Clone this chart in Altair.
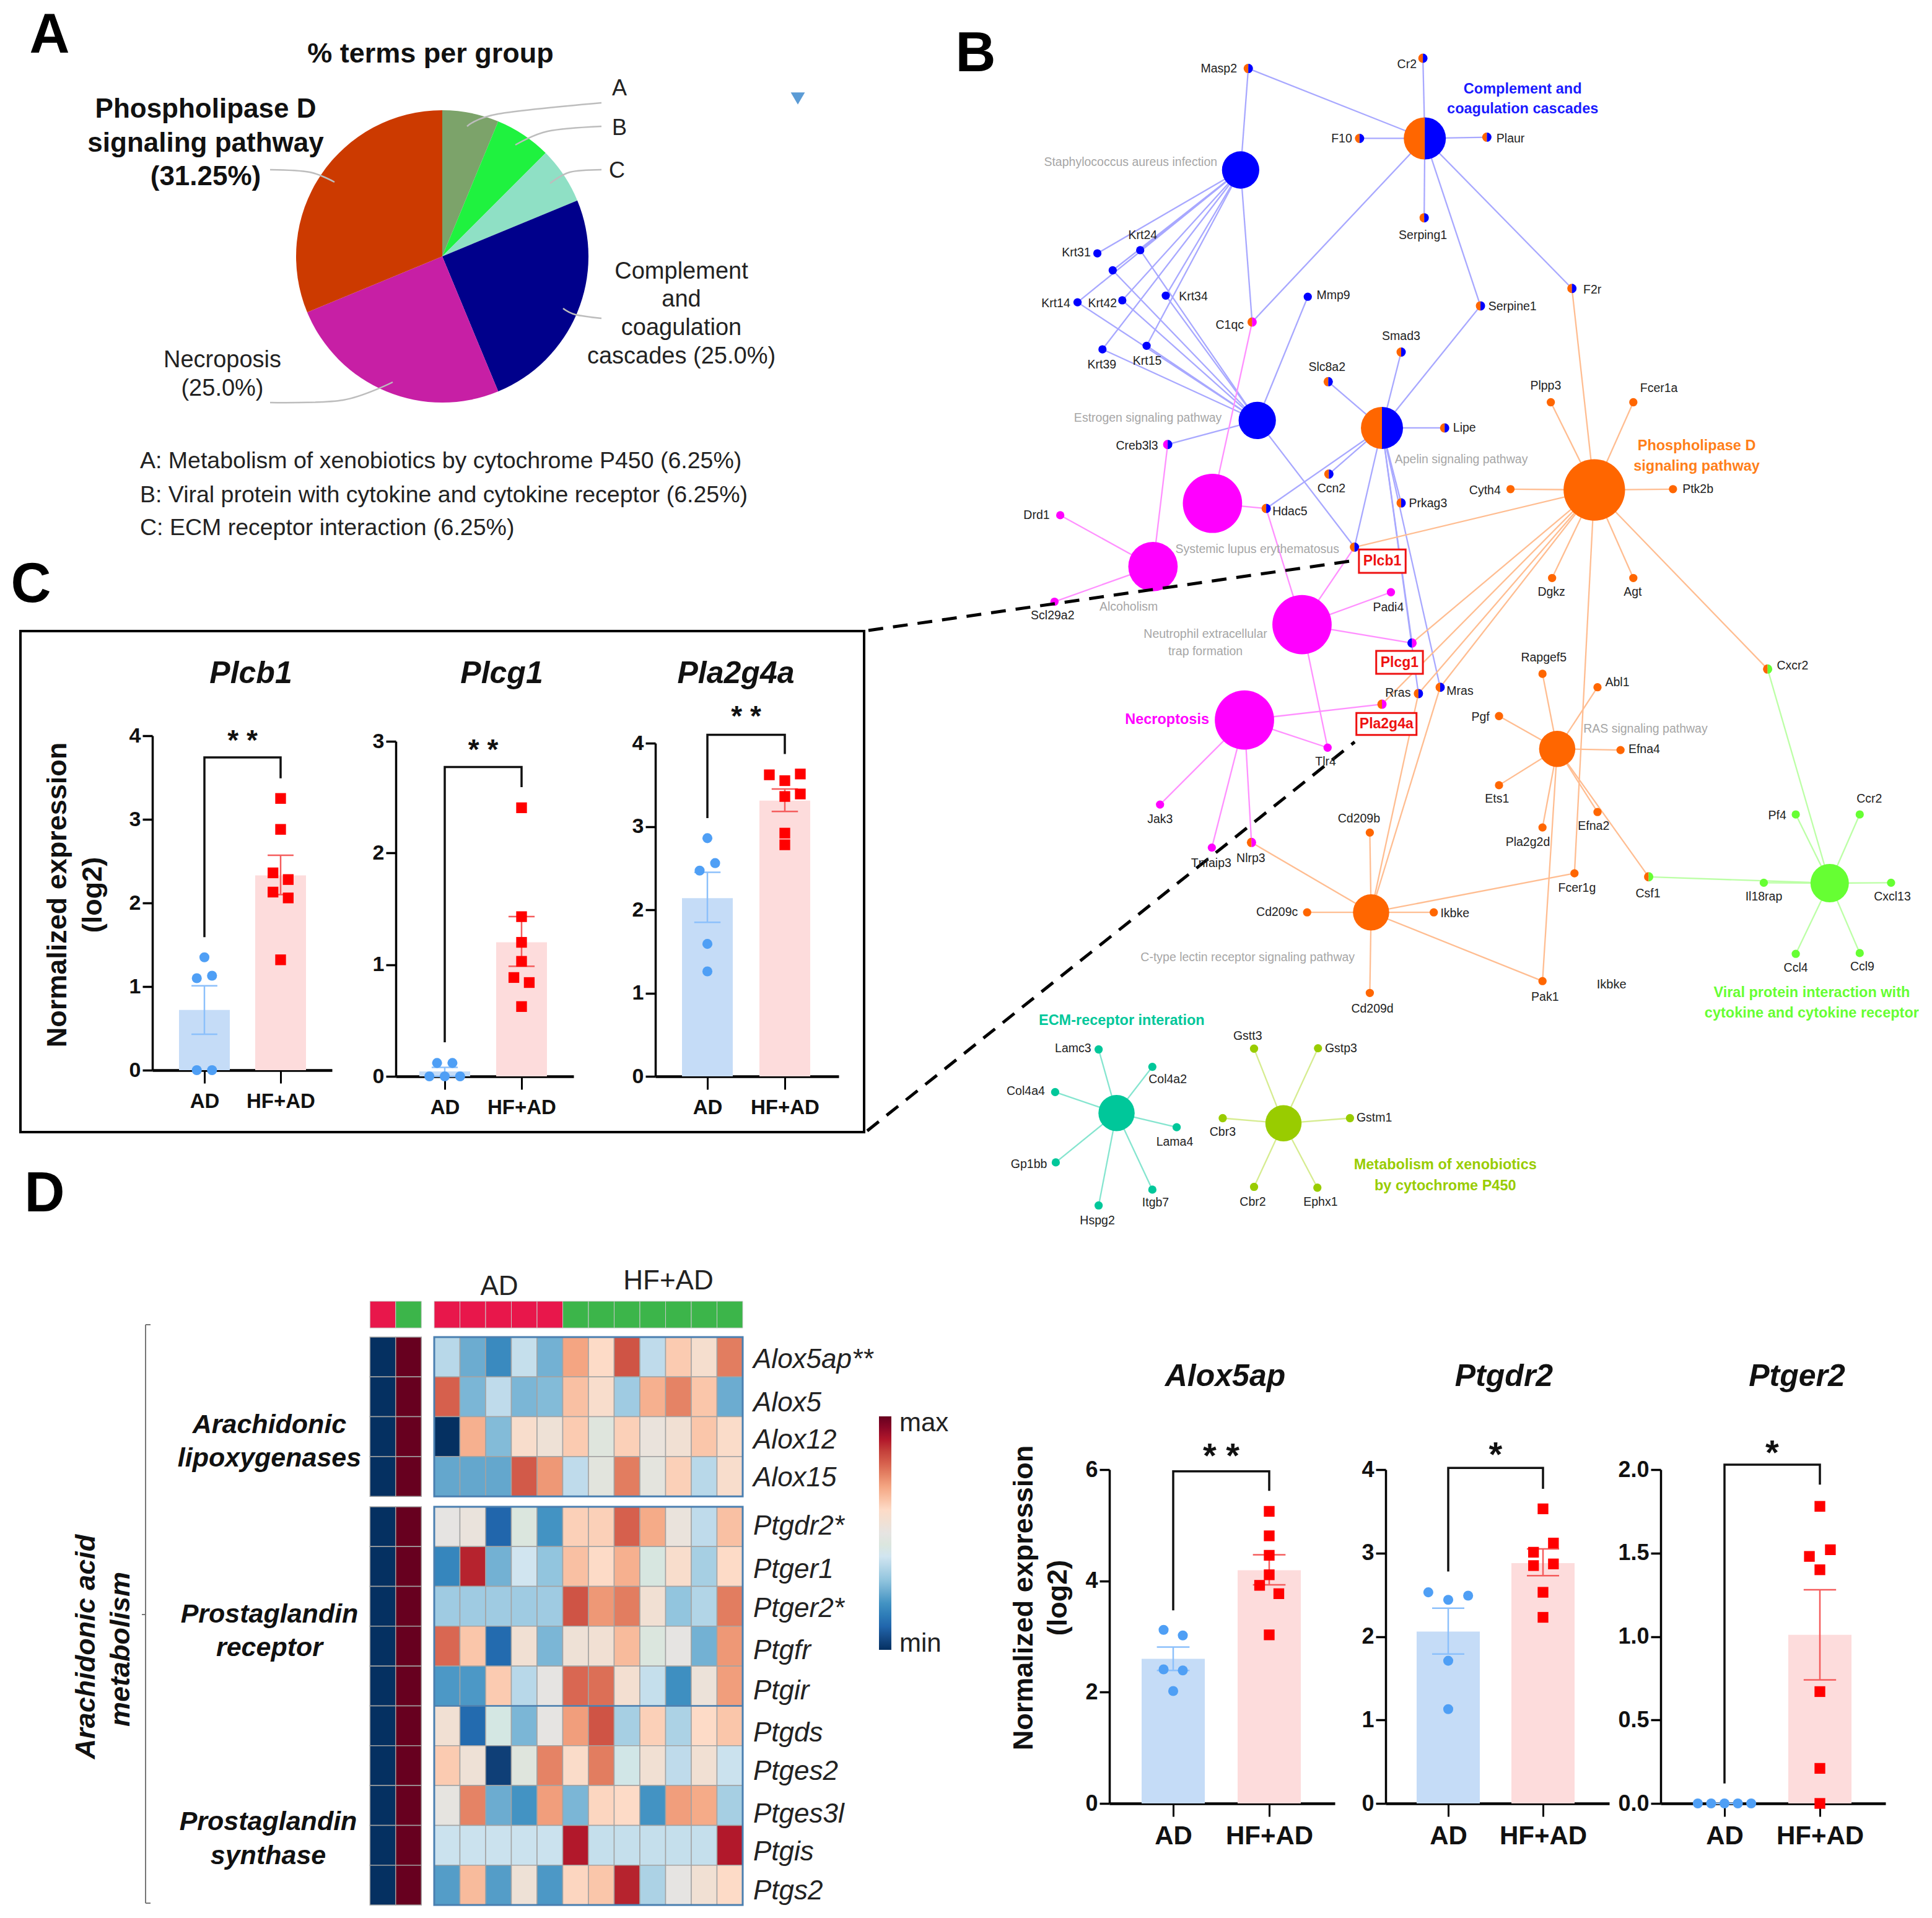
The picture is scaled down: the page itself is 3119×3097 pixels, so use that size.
import altair as alt
import pandas as pd
from collections import defaultdict

FONT = "Liberation Sans"
M = 8  # page margin
FIG_W, FIG_H = 3119, 3097

# ---------------- pie -----------------
PIE_VALUES = [6.25, 6.25, 6.25, 25.0, 25.0, 31.25]
PIE_COLORS = ["#7ca36a", "#1ff23f", "#8fe0c5", "#00008b", "#c71fa5", "#cc3a00"]

# ---------------- bars ------------------------------------------------
PLCB1 = dict(mean=[0.72, 2.33], err=[(0.43, 1.01), (2.10, 2.57)],
             ad=[(1, 1.35), (0.9, 1.10), (1.1, 1.13), (0.9, 0), (1.1, 0)],
             hf=[(2, 3.25), (2, 2.88), (1.9, 2.36), (2.1, 2.28), (1.9, 2.13), (2.1, 2.06), (2, 1.32)],
             bracket=[1.59, 3.74, 3.74, 3.49], stars="* *", star_y=3.99, ticks=[0, 1, 2, 3, 4])
PLCG1 = dict(mean=[0.045, 1.20], err=[(0.0, 0.08), (0.985, 1.43)],
             ad=[(0.9, 0.12), (1.1, 0.12), (0.8, 0), (1, 0), (1.2, 0)],
             hf=[(2, 2.405), (2, 1.43), (2, 1.20), (2, 1.03), (1.9, 0.885), (2.1, 0.84), (2, 0.625)],
             bracket=[0.305, 2.77, 2.77, 2.59], stars="* *", star_y=2.96, ticks=[0, 1, 2, 3])
PLA2G4A = dict(mean=[2.14, 3.31], err=[(1.85, 2.45), (3.18, 3.45)],
               ad=[(1, 2.86), (1.1, 2.56), (0.9, 2.47), (1, 1.59), (1, 1.26)],
               hf=[(1.8, 3.62), (2.2, 3.63), (2, 3.55), (2.2, 3.39), (2, 3.36), (2, 2.92), (2, 2.78)],
               bracket=[3.10, 4.10, 4.10, 3.87], stars="* *", star_y=4.37, ticks=[0, 1, 2, 3, 4])
ALOX5AP = dict(mean=[2.6, 4.19], err=[(2.39, 2.81), (3.93, 4.47)],
               ad=[(0.9, 3.12), (1.1, 3.02), (0.9, 2.41), (1.1, 2.39), (1, 2.02)],
               hf=[(2, 5.25), (2, 4.81), (2, 4.46), (2, 4.11), (1.9, 3.92), (2.1, 3.77), (2, 3.03)],
               bracket=[3.47, 5.97, 5.97, 5.62], stars="* *", star_y=6.37, ticks=[0, 2, 4, 6])
PTGDR2 = dict(mean=[2.06, 2.88], err=[(1.79, 2.34), (2.73, 3.05)],
              ad=[(0.79, 2.53), (1.21, 2.49), (1, 2.44), (1, 1.71), (1, 1.13)],
              hf=[(2, 3.53), (2.11, 3.12), (1.9, 3.01), (2.11, 2.87), (1.9, 2.85), (2, 2.53), (2, 2.23)],
              bracket=[2.78, 4.02, 4.02, 3.77], stars="*", star_y=4.26, ticks=[0, 1, 2, 3, 4])
PTGER2 = dict(mean=[0.0, 1.01], err=[(0.0, 0.0), (0.74, 1.28)],
              ad=[(0.72, 0), (0.86, 0), (1, 0), (1.14, 0), (1.28, 0)],
              hf=[(2, 1.78), (2.11, 1.52), (1.89, 1.48), (2, 1.40), (2, 0.67), (2, 0.21), (2, 0)],
              bracket=[0.12, 2.03, 2.03, 1.91], stars="*", star_y=2.14, ticks=[0, 0.5, 1.0, 1.5, 2.0])

# ---------------- heatmap -----------------
HEAT_GENES = ["Alox5ap**", "Alox5", "Alox12", "Alox15", "Ptgdr2*", "Ptger1", "Ptger2*", "Ptgfr",
              "Ptgir", "Ptgds", "Ptges2", "Ptges3l", "Ptgis", "Ptgs2"]
HEAT_LABEL_Y = [2196, 2266, 2326, 2387, 2465, 2535, 2598, 2666, 2731, 2799, 2861, 2930, 2991, 3054]
HEAT = [
    [0.36, 0.25, 0.18, 0.38, 0.26, 0.70, 0.60, 0.82, 0.37, 0.63, 0.57, 0.76],
    [0.80, 0.27, 0.37, 0.27, 0.28, 0.65, 0.58, 0.32, 0.68, 0.75, 0.64, 0.25],
    [0.00, 0.68, 0.28, 0.58, 0.54, 0.63, 0.46, 0.62, 0.52, 0.55, 0.64, 0.59],
    [0.24, 0.24, 0.24, 0.81, 0.72, 0.37, 0.47, 0.76, 0.48, 0.62, 0.36, 0.58],
    [0.50, 0.52, 0.10, 0.45, 0.20, 0.62, 0.62, 0.80, 0.69, 0.52, 0.37, 0.65],
    [0.17, 0.89, 0.26, 0.40, 0.30, 0.65, 0.60, 0.68, 0.44, 0.58, 0.33, 0.60],
    [0.32, 0.32, 0.32, 0.32, 0.32, 0.82, 0.72, 0.76, 0.55, 0.30, 0.35, 0.76],
    [0.79, 0.64, 0.11, 0.55, 0.27, 0.54, 0.55, 0.66, 0.45, 0.50, 0.26, 0.72],
    [0.21, 0.21, 0.63, 0.36, 0.50, 0.79, 0.78, 0.56, 0.38, 0.19, 0.53, 0.71],
    [0.55, 0.11, 0.43, 0.27, 0.50, 0.71, 0.82, 0.33, 0.62, 0.34, 0.60, 0.64],
    [0.63, 0.54, 0.03, 0.46, 0.75, 0.59, 0.76, 0.42, 0.55, 0.37, 0.55, 0.39],
    [0.49, 0.75, 0.25, 0.20, 0.71, 0.27, 0.61, 0.60, 0.20, 0.71, 0.69, 0.33],
    [0.39, 0.39, 0.39, 0.39, 0.39, 0.90, 0.38, 0.38, 0.38, 0.38, 0.38, 0.90],
    [0.22, 0.66, 0.22, 0.54, 0.21, 0.61, 0.64, 0.89, 0.34, 0.50, 0.55, 0.60],
]
HEAT_STOPS = [0, .1, .2, .3, .4, .5, .6, .7, .8, .9, 1]
HEAT_RANGE = ["#053061", "#2166ac", "#4393c3", "#92c5de", "#d1e5f0", "#e6e4e2",
              "#fddbc7", "#f4a582", "#d6604d", "#b2182b", "#67001f"]

# ---------------- network -----------------
O, B, P, G, T, Y = "#ff6600", "#0000ff", "#ff00ff", "#66ff33", "#00c79a", "#99cc00"
E_COL = {O: "#ffbd91", B: "#a8a8ff", P: "#ff90ff", G: "#bcffa6", T: "#85e5cf", Y: "#d6ec90"}
# read in two crops of the picture; converted to figure pixels below
def fx(v): return 1500 + v / 0.9685
def fy2(v): return 50 + v / 1.568
def fy3(v): return 1000 + v / 1.568

# name: (x, y, crop, diameter, left colour, right colour)
HUBS = {
    "Staph": (487, 352, 2, 68, B, B), "Compl": (775, 272, 2, 68, O, B), "Estr": (513, 986, 2, 68, B, B),
    "Apelin": (708, 1005, 2, 68, O, B), "PLD": (1040, 1162, 2, 112, O, O), "SLE": (443, 1196, 2, 108, P, P),
    "Alco": (350, 1356, 2, 90, P, P), "Neut": (583, 1013 + 490, 2, 108, P, P), "Necr": (493, 255, 3, 108, P, P),
    "RAS": (982, 328, 3, 66, O, O), "Ctype": (691, 742, 3, 66, O, O), "Viral": (1408, 668, 3, 70, G, G),
    "ECM": (293, 1250, 3, 66, T, T), "Xeno": (554, 1276, 3, 66, Y, Y),
}
# name: (x, y, crop, left, right, label x, label y)
GENES = {
    "Masp2": (499, 95, 2, O, B, 453, 95), "Cr2": (772, 69, 2, O, B, 747, 85), "F10": (673, 272, 2, O, B, 645, 273),
    "Plaur": (872, 269, 2, O, B, 909, 273), "Serping1": (774, 473, 2, O, B, 772, 518),
    "Krt31": (263, 563, 2, B, B, 230, 562), "Krt24": (330, 555, 2, B, B, 334, 518),
    "": (287, 606, 2, B, B, 287, 606), "Krt14": (232, 687, 2, B, B, 198, 690),
    "Krt42": (302, 682, 2, B, B, 271, 690), "Krt34": (370, 670, 2, B, B, 413, 673),
    "Mmp9": (592, 673, 2, B, B, 632, 670), "C1qc": (505, 737, 2, O, P, 470, 745),
    "Serpine1": (862, 696, 2, O, B, 912, 698), "F2r": (1005, 652, 2, O, B, 1037, 655),
    "Krt39": (271, 806, 2, B, B, 270, 845), "Krt15": (340, 797, 2, B, B, 341, 835),
    "Smad3": (738, 813, 2, O, B, 738, 773), "Slc8a2": (624, 888, 2, O, B, 622, 852),
    "Plpp3": (972, 940, 2, O, O, 964, 898), "Fcer1a": (1101, 940, 2, O, O, 1141, 905),
    "Lipe": (806, 1005, 2, O, B, 837, 1005), "Creb3l3": (373, 1047, 2, P, B, 325, 1050),
    "Ccn2": (625, 1122, 2, O, B, 629, 1158), "Cyth4": (909, 1160, 2, O, O, 869, 1163),
    "Ptk2b": (1163, 1160, 2, O, O, 1202, 1160), "Prkag3": (738, 1195, 2, O, B, 780, 1197),
    "Hdac5": (527, 1209, 2, O, B, 564, 1216), "Drd1": (205, 1226, 2, P, P, 168, 1226),
    "Plcb1": (665, 1307, 2, O, B, None, None), "Dgkz": (974, 1385, 2, O, O, 973, 1420),
    "Agt": (1101, 1385, 2, O, O, 1100, 1420), "Padi4": (722, 1421, 2, P, P, 718, 1460),
    "Scl29a2": (196, 1445, 2, P, P, 193, 1480), "Plcg1": (755, 60, 3, B, P, None, None),
    "Rapgef5": (959, 138, 3, O, O, 961, 97), "Abl1": (1045, 172, 3, O, O, 1076, 160),
    "Cxcr2": (1311, 126, 3, O, G, 1350, 118), "Mras": (799, 172, 3, O, B, 830, 182),
    "Rras": (765, 188, 3, O, B, 733, 187), "Pla2g4a": (708, 215, 3, O, P, None, None),
    "Pgf": (891, 245, 3, O, O, 862, 248), "Efna4": (1081, 331, 3, O, O, 1118, 330),
    "Tlr4": (623, 325, 3, P, P, 620, 360), "Ets1": (891, 420, 3, O, O, 888, 455),
    "Jak3": (361, 469, 3, P, P, 361, 507), "Efna2": (1045, 488, 3, O, O, 1039, 523),
    "Pla2g2d": (959, 527, 3, O, O, 936, 565), "Cd209b": (689, 540, 3, O, O, 672, 505),
    "Nlrp3": (504, 565, 3, O, P, 503, 605), "Tnfaip3": (442, 578, 3, P, P, 441, 618),
    "Pf4": (1355, 494, 3, G, G, 1326, 497), "Ccr2": (1455, 494, 3, G, G, 1470, 455),
    "Fcer1g": (1009, 643, 3, O, O, 1013, 680), "Csf1": (1125, 652, 3, O, G, 1124, 695),
    "Il18rap": (1305, 667, 3, G, G, 1305, 703), "Cxcl13": (1504, 667, 3, G, G, 1506, 703),
    "Cd209c": (591, 742, 3, O, O, 544, 742), "Ikbke": (789, 742, 3, O, O, 822, 745),
    "Ccl4": (1355, 847, 3, G, G, 1355, 882), "Ccl9": (1455, 845, 3, G, G, 1459, 879),
    "Pak1": (959, 916, 3, O, O, 963, 957), "Cd209d": (689, 946, 3, O, O, 693, 987),
    "Lamc3": (265, 1089, 3, T, T, 225, 1087), "Gstt3": (508, 1087, 3, Y, Y, 498, 1055),
    "Gstp3": (608, 1086, 3, Y, Y, 644, 1087), "Col4a2": (349, 1133, 3, T, T, 373, 1165),
    "Col4a4": (197, 1197, 3, T, T, 151, 1195), "Cbr3": (459, 1263, 3, Y, Y, 459, 1298),
    "Gstm1": (658, 1263, 3, Y, Y, 696, 1263), "Lama4": (387, 1286, 3, T, T, 384, 1323),
    "Gp1bb": (198, 1375, 3, T, T, 156, 1380), "Itgb7": (349, 1444, 3, T, T, 354, 1477),
    "Cbr2": (508, 1437, 3, Y, Y, 506, 1475), "Ephx1": (607, 1439, 3, Y, Y, 612, 1475),
    "Hspg2": (265, 1484, 3, T, T, 263, 1522),
}
EDGES = {
    ("Staph", B): ["Masp2", "Krt31", "Krt24", "", "Krt14", "Krt42", "Krt34", "Krt39", "Krt15", "C1qc"],
    ("Compl", B): ["Masp2", "Cr2", "F10", "Plaur", "Serping1", "C1qc", "Serpine1", "F2r"],
    ("Estr", B): ["Krt24", "", "Krt14", "Krt42", "Krt34", "Krt39", "Krt15", "Mmp9", "Creb3l3", "Plcb1"],
    ("Apelin", B): ["Smad3", "Slc8a2", "Lipe", "Serpine1", "Ccn2", "Prkag3", "Hdac5", "Plcb1", "Plcg1", "Rras", "Mras"],
    ("SLE", P): ["C1qc", "Hdac5"],
    ("Alco", P): ["Creb3l3", "Drd1", "Scl29a2"],
    ("Neut", P): ["Hdac5", "Plcb1", "Padi4", "Plcg1", "Tlr4"],
    ("Necr", P): ["Pla2g4a", "Tlr4", "Jak3", "Tnfaip3", "Nlrp3"],
    ("PLD", O): ["F2r", "Plpp3", "Fcer1a", "Cyth4", "Ptk2b", "Plcb1", "Dgkz", "Agt", "Cxcr2", "Plcg1", "Rras", "Pla2g4a", "Mras", "Fcer1g"],
    ("RAS", O): ["Rapgef5", "Abl1", "Pgf", "Efna4", "Ets1", "Efna2", "Pla2g2d", "Csf1", "Pak1"],
    ("Ctype", O): ["Nlrp3", "Cd209b", "Cd209c", "Ikbke", "Cd209d", "Pak1", "Fcer1g", "Rras", "Mras"],
    ("Viral", G): ["Cxcr2", "Pf4", "Ccr2", "Il18rap", "Cxcl13", "Ccl4", "Ccl9", "Csf1"],
    ("ECM", T): ["Lamc3", "Col4a2", "Col4a4", "Lama4", "Gp1bb", "Itgb7", "Hspg2"],
    ("Xeno", Y): ["Gstt3", "Gstp3", "Cbr3", "Gstm1", "Cbr2", "Ephx1"],
}
RED_BOXES = [("Plcb1", 672, 745, 1313, 1372, 2), ("Plcg1", 699, 772, 80, 138, 3), ("Pla2g4a", 668, 762, 237, 293, 3)]

GRAY = "#a6a6a6"
# text, x, y, size, weight, style, colour, angle, align
def n2(t, x, y, s, w, c): return (t, fx(x), fy2(y), s, w, "normal", c, 0, "center")
def n3(t, x, y, s, w, c): return (t, fx(x), fy3(y), s, w, "normal", c, 0, "center")
ANNOT = [
    ("A", 80, 58, 90, "bold", "normal", "black", 0, "center"),
    ("B", 1575, 88, 90, "bold", "normal", "black", 0, "center"),
    ("C", 50, 945, 90, "bold", "normal", "black", 0, "center"),
    ("D", 72, 1929, 90, "bold", "normal", "black", 0, "center"),
    ("% terms per group", 695, 87, 45, "bold", "normal", "#111", 0, "center"),
    ("Phospholipase D", 332, 177, 44, "bold", "normal", "#111", 0, "center"),
    ("signaling pathway", 332, 232, 44, "bold", "normal", "#111", 0, "center"),
    ("(31.25%)", 332, 286, 44, "bold", "normal", "#111", 0, "center"),
    ("A", 1000, 143, 36, "normal", "normal", "#222", 0, "center"),
    ("B", 1000, 207, 36, "normal", "normal", "#222", 0, "center"),
    ("C", 996, 276, 36, "normal", "normal", "#222", 0, "center"),
    ("Complement", 1100, 439, 38, "normal", "normal", "#222", 0, "center"),
    ("and", 1100, 484, 38, "normal", "normal", "#222", 0, "center"),
    ("coagulation", 1100, 530, 38, "normal", "normal", "#222", 0, "center"),
    ("cascades (25.0%)", 1100, 576, 38, "normal", "normal", "#222", 0, "center"),
    ("Necroposis", 359, 582, 38, "normal", "normal", "#222", 0, "center"),
    ("(25.0%)", 359, 628, 38, "normal", "normal", "#222", 0, "center"),
    ("A: Metabolism of xenobiotics by cytochrome P450 (6.25%)", 226, 745, 37.5, "normal", "normal", "#222", 0, "left"),
    ("B: Viral protein with cytokine and cytokine receptor (6.25%)", 226, 800, 37.5, "normal", "normal", "#222", 0, "left"),
    ("C: ECM receptor interaction (6.25%)", 226, 853, 37.5, "normal", "normal", "#222", 0, "left"),
    # panel C
    ("Plcb1", 405, 1088, 50, "bold", "italic", "#111", 0, "center"),
    ("Plcg1", 810, 1088, 50, "bold", "italic", "#111", 0, "center"),
    ("Pla2g4a", 1188, 1088, 50, "bold", "italic", "#111", 0, "center"),
    ("Normalized expression", 93, 1445, 45, "bold", "normal", "#111", 270, "center"),
    ("(log2)", 150, 1445, 45, "bold", "normal", "#111", 270, "center"),
    # panel D
    ("AD", 806, 2078, 44, "normal", "normal", "#222", 0, "center"),
    ("HF+AD", 1079, 2069, 44, "normal", "normal", "#222", 0, "center"),
    ("Arachidonic", 435, 2301, 43, "bold", "italic", "#111", 0, "center"),
    ("lipoxygenases", 435, 2355, 43, "bold", "italic", "#111", 0, "center"),
    ("Prostaglandin", 435, 2607, 43, "bold", "italic", "#111", 0, "center"),
    ("receptor", 435, 2661, 43, "bold", "italic", "#111", 0, "center"),
    ("Prostaglandin", 433, 2942, 43, "bold", "italic", "#111", 0, "center"),
    ("synthase", 433, 2997, 43, "bold", "italic", "#111", 0, "center"),
    ("Arachidonic  acid", 139, 2659, 45, "bold", "italic", "#111", 270, "center"),
    ("metabolism", 195, 2663, 45, "bold", "italic", "#111", 270, "center"),
    ("max", 1452, 2298, 42, "normal", "normal", "#222", 0, "left"),
    ("min", 1452, 2654, 42, "normal", "normal", "#222", 0, "left"),
    ("Alox5ap", 1978, 2223, 50, "bold", "italic", "#111", 0, "center"),
    ("Ptgdr2", 2428, 2223, 50, "bold", "italic", "#111", 0, "center"),
    ("Ptger2", 2901, 2223, 50, "bold", "italic", "#111", 0, "center"),
    ("Normalized expression", 1653, 2580, 45, "bold", "normal", "#111", 270, "center"),
    ("(log2)", 1708, 2580, 45, "bold", "normal", "#111", 270, "center"),
    # network labels
    n2("Complement and", 928, 147, 23.5, "bold", "#1a1aff"),
    n2("coagulation cascades", 928, 198, 23.5, "bold", "#1a1aff"),
    n2("Phospholipase D", 1200, 1050, 23.5, "bold", "#ff7f1a"),
    n2("signaling pathway", 1200, 1102, 23.5, "bold", "#ff7f1a"),
    n2("Staphylococcus aureus infection", 315, 333, 19.5, "normal", GRAY),
    n2("Estrogen signaling pathway", 342, 980, 19.5, "normal", GRAY),
    n2("Apelin signaling pathway", 832, 1085, 19.5, "normal", GRAY),
    n2("Systemic lupus erythematosus", 513, 1313, 19.5, "normal", GRAY),
    n2("Alcoholism", 312, 1458, 19.5, "normal", GRAY),
    n3("Neutrophil extracellular", 432, 38, 19.5, "normal", GRAY),
    n3("trap formation", 432, 82, 19.5, "normal", GRAY),
    n3("RAS signaling pathway", 1120, 277, 19.5, "normal", GRAY),
    n3("C-type lectin receptor signaling pathway", 498, 856, 19.5, "normal", GRAY),
    n3("Ikbke", 1067, 925, 20, "normal", "#222"),
    n3("Necroptosis", 372, 254, 23.5, "bold", "#ff00ff"),
    n3("Viral protein interaction with", 1380, 945, 23.5, "bold", "#66ff33"),
    n3("cytokine and cytokine receptor", 1380, 997, 23.5, "bold", "#66ff33"),
    n3("ECM-receptor interation", 301, 1016, 23.5, "bold", "#00c79a"),
    n3("Metabolism of xenobiotics", 807, 1382, 23.5, "bold", "#99cc00"),
    n3("by cytochrome  P450", 807, 1434, 23.5, "bold", "#99cc00"),
]

CALLOUTS = [
    [(971, 166), (804, 184), (754, 204)],
    [(971, 204), (884, 212), (832, 234)],
    [(971, 274), (920, 278), (888, 296)],
    [(971, 514), (929, 508), (909, 498)],
    [(436, 650), (554, 646), (634, 617)],
    [(436, 274), (500, 278), (540, 294)],
]

# ---------------- all panels share the page origin; each later panel starts one pixel further right ----
def panel(c):
    return c.properties(width=1, height=1)


def canvas(idx):
    SX = alt.Scale(domain=[0, FIG_W], range=[-M - idx, FIG_W - M - idx])
    SY = alt.Scale(domain=[0, FIG_H], range=[-M, FIG_H - M])
    X = alt.X("x:Q", scale=SX, axis=None)
    Y_ = alt.Y("y:Q", scale=SY, axis=None)
    layers = []
    # frame of panel C
    frame = pd.DataFrame([dict(x=33, x2=1395, y=1019, y2=1828)])
    layers.append(alt.Chart(frame).mark_rect(fillOpacity=0, stroke="black", strokeWidth=4).encode(
        x=X, x2="x2:Q", y=Y_, y2="y2:Q"))
    # pie call-outs
    rows = [dict(g=g, i=i, x=p[0], y=p[1]) for g, c in enumerate(CALLOUTS) for i, p in enumerate(c)]
    layers.append(alt.Chart(pd.DataFrame(rows)).mark_line(interpolate="cardinal", color="#bdbdbd", strokeWidth=2.5).encode(
        x=X, y=Y_, detail="g:N", order="i:Q"))
    # brace of D
    rows = [dict(x=235, y=2139, x2=235, y2=3073), dict(x=235, y=2139, x2=243, y2=2139),
            dict(x=235, y=3073, x2=243, y2=3073), dict(x=229, y=2607, x2=235, y2=2607)]
    layers.append(alt.Chart(pd.DataFrame(rows)).mark_rule(color="#777", strokeWidth=2).encode(
        x=X, x2="x2:Q", y=Y_, y2="y2:Q"))
    # triangle
    layers.append(alt.Chart(pd.DataFrame([dict(x=1288, y=159)])).mark_point(
        shape="triangle-down", filled=True, color="#5b9bd5", size=520, opacity=1).encode(x=X, y=Y_))

    def pos(t):
        return fx(t[0]), (fy2 if t[2] == 2 else fy3)(t[1])
    # edges
    rows = []
    for (hub, col), genes in EDGES.items():
        hx, hy = pos(HUBS[hub])
        for g in genes:
            gx, gy = pos(GENES[g])
            rows.append(dict(x=hx, y=hy, x2=gx, y2=gy, c=E_COL[col]))
    layers.append(alt.Chart(pd.DataFrame(rows)).mark_rule(strokeWidth=2.3).encode(
        x=X, x2="x2:Q", y=Y_, y2="y2:Q", color=alt.Color("c:N", scale=None)))
    # whole nodes
    rows = []
    halves = defaultdict(list)
    for h in HUBS.values():
        x, y = pos(h)
        if h[4] == h[5]:
            rows.append(dict(x=x, y=y, c=h[4], s=3.1416 * (h[3] / 2) ** 2))
        else:
            halves[(h[3] / 2, h[4], h[5])].append(dict(x=x, y=y))
    for g in GENES.values():
        x, y = pos(g)
        if g[3] == g[4]:
            rows.append(dict(x=x, y=y, c=g[3], s=3.1416 * 7.5 ** 2))
        else:
            halves[(7.5, g[3], g[4])].append(dict(x=x, y=y))
    layers.append(alt.Chart(pd.DataFrame(rows)).mark_point(filled=True, opacity=1, shape="circle").encode(
        x=X, y=Y_, color=alt.Color("c:N", scale=None), size=alt.Size("s:Q", scale=None)))
    for (r, left, right), pts in halves.items():
        df = pd.DataFrame(pts)
        layers.append(alt.Chart(df).mark_arc(outerRadius=r, theta=3.14159, theta2=6.28318, color=left).encode(x=X, y=Y_))
        layers.append(alt.Chart(df).mark_arc(outerRadius=r, theta=0.0001, theta2=3.14159, color=right).encode(x=X, y=Y_))
    # dashed connectors
    dash = pd.DataFrame([dict(x=1402, y=1018, x2=2187, y2=905), dict(x=1400, y=1826, x2=2187, y2=1198)])
    layers.append(alt.Chart(dash).mark_rule(color="black", strokeWidth=5, strokeDash=[24, 16]).encode(
        x=X, x2="x2:Q", y=Y_, y2="y2:Q"))
    # gene labels
    rows = [dict(t=k, x=fx(v[5]), y=(fy2 if v[2] == 2 else fy3)(v[6])) for k, v in GENES.items() if k and v[5] is not None]
    layers.append(alt.Chart(pd.DataFrame(rows)).mark_text(font=FONT, fontSize=19.5, color="#222", baseline="middle").encode(
        x=X, y=Y_, text="t:N"))
    # red boxes
    rows = []
    for t, a, b, c, d, crop in RED_BOXES:
        f = fy2 if crop == 2 else fy3
        rows.append(dict(t=t, x=fx(a), x2=fx(b), y=f(c), y2=f(d), mx=fx((a + b) / 2), my=f((c + d) / 2)))
    df = pd.DataFrame(rows)
    layers.append(alt.Chart(df).mark_rect(fill="white", stroke="#ee1111", strokeWidth=3).encode(
        x=X, x2="x2:Q", y=Y_, y2="y2:Q"))
    layers.append(alt.Chart(df).mark_text(font=FONT, fontSize=23, fontWeight="bold", color="#ee1111", baseline="middle").encode(
        x=alt.X("mx:Q", scale=SX, axis=None), y=alt.Y("my:Q", scale=SY, axis=None), text="t:N"))
    # other text
    groups = defaultdict(list)
    for t, x, y, s, w, st, c, ang, al in ANNOT:
        groups[(s, w, st, c, ang, al)].append(dict(t=t, x=x, y=y))
    for (s, w, st, c, ang, al), rows in groups.items():
        kw = dict(angle=ang) if ang else {}
        layers.append(alt.Chart(pd.DataFrame(rows)).mark_text(
            font=FONT, fontSize=s, fontWeight=w, fontStyle=st, color=c, align=al, baseline="middle", **kw
        ).encode(x=X, y=Y_, text="t:N"))
    return panel(alt.layer(*layers))


def pie():
    df = pd.DataFrame(dict(v=PIE_VALUES, c=PIE_COLORS, i=range(len(PIE_VALUES))))
    c = alt.Chart(df).mark_arc(outerRadius=236).encode(
        theta=alt.Theta("v:Q", stack=True),
        color=alt.Color("c:N", scale=None),
        order=alt.Order("i:Q"),
        x=alt.value(714 - M), y=alt.value(414 - M))
    return panel(c)


def heat(idx):
    gap = 0.26
    sx = alt.Scale(domain=[0, 12], range=[701 - M - idx, 1199 - M - idx])
    sy = alt.Scale(domain=[0, 14 + gap], range=[2159 - M, 3076 - M])
    XH = alt.X("x0:Q", scale=sx, axis=None)
    YH = alt.Y("y0:Q", scale=sy, axis=None)
    def ry(i): return i + (gap if i >= 4 else 0)
    rows = []
    for i, row in enumerate(HEAT):
        for j, v in enumerate(row):
            rows.append(dict(x0=j, x1=j + 1, y0=ry(i), y1=ry(i) + 1, v=v))
        rows.append(dict(x0=-2.5, x1=-1.5, y0=ry(i), y1=ry(i) + 1, v=0))
        rows.append(dict(x0=-1.5, x1=-0.5, y0=ry(i), y1=ry(i) + 1, v=1))
    cells = alt.Chart(pd.DataFrame(rows)).mark_rect(stroke="#a3a3a3", strokeWidth=1.5).encode(
        x=XH, x2="x1:Q", y=YH, y2="y1:Q",
        color=alt.Color("v:Q", scale=alt.Scale(domain=HEAT_STOPS, range=HEAT_RANGE),
                        legend=alt.Legend(orient="none", legendX=1421 - M - idx, legendY=2287 - M, title=None,
                                          direction="vertical", gradientLength=377, gradientThickness=20,
                                          values=[0, 1], labelExpr="''", labelOpacity=0, gradientStrokeWidth=0)))
    frames = pd.DataFrame([dict(x0=0, x1=12, y0=0, y1=4), dict(x0=0, x1=12, y0=4 + gap, y1=14 + gap)])
    fr = alt.Chart(frames).mark_rect(fillOpacity=0, stroke="#4a7fb0", strokeWidth=3).encode(
        x=XH, x2="x1:Q", y=YH, y2="y1:Q")
    div = alt.Chart(pd.DataFrame([dict(x0=0, x1=12, y0=9 + gap)])).mark_rule(stroke="#4a7fb0", strokeWidth=2.5).encode(
        x=XH, x2="x1:Q", y=YH)
    t, b = -0.9, -0.23
    ad = pd.DataFrame([dict(x0=j, x1=j + 1, y0=t, y1=b) for j in range(5)] + [dict(x0=-2.5, x1=-1.5, y0=t, y1=b)])
    hf = pd.DataFrame([dict(x0=j, x1=j + 1, y0=t, y1=b) for j in range(5, 12)] + [dict(x0=-1.5, x1=-0.5, y0=t, y1=b)])
    a1 = alt.Chart(ad).mark_rect(color="#e8174b", stroke="#c8c8c8", strokeWidth=1).encode(x=XH, x2="x1:Q", y=YH, y2="y1:Q")
    a2 = alt.Chart(hf).mark_rect(color="#3cb54a", stroke="#c8c8c8", strokeWidth=1).encode(x=XH, x2="x1:Q", y=YH, y2="y1:Q")
    lab = pd.DataFrame([dict(t=g, x0=12.41, y0=(yy - 2159) / 64.3) for g, yy in zip(HEAT_GENES, HEAT_LABEL_Y)])
    lb = alt.Chart(lab).mark_text(font=FONT, fontStyle="italic", fontSize=44, color="#222", align="left", baseline="middle").encode(
        x=XH, y=YH, text="t:N")
    return panel(alt.layer(cells, fr, div, a1, a2, lb))


BAR_BLUE, BAR_PINK = "#c5dcf7", "#fddcdc"
PT_BLUE, PT_RED = "#4f9ff5", "#ff0000"
ERR_BLUE, ERR_RED = "#8cc0fb", "#f45c5c"


def bars(idx, d, xaxis, xad, xhf, xend, y0, ytop, lab_size, tick_size, half, lab_pad, star_size, star_dy, fmt="d"):
    step = xhf - xad
    mx = M + idx
    sx = alt.Scale(domain=[1 - (xad - xaxis) / step, 2 + (xend - xhf) / step], range=[xaxis - mx, xend - mx])
    sy = alt.Scale(domain=[d["ticks"][0], d["ticks"][-1]], range=[y0 - M, ytop - M])
    ax_x = alt.Axis(orient="bottom", offset=y0 - M - 1, values=[1, 2], labelExpr="datum.value == 1 ? 'AD' : 'HF+AD'",
                    grid=False, title=None, domainColor="black", domainWidth=4.5, tickColor="black", tickWidth=3,
                    tickSize=21, labelFontSize=lab_size, labelFont=FONT, labelFontWeight="bold", labelColor="#111",
                    labelAngle=0, labelPadding=lab_pad, labelOverlap=False, labelBound=False, labelFlush=False)
    ax_y = alt.Axis(orient="left", offset=-(xaxis - mx), values=d["ticks"], format=fmt, grid=False, title=None,
                    domainColor="black", domainWidth=3.5, tickColor="black", tickWidth=3.5, tickSize=16,
                    labelFontSize=tick_size, labelFont=FONT, labelFontWeight="bold", labelColor="#111", labelPadding=3,
                    labelOverlap=False, labelBound=False, labelFlush=False)
    XB = alt.X("x:Q", scale=sx, axis=ax_x)
    YB = alt.Y("y:Q", scale=sy, axis=ax_y)
    hw = half / step
    cap = 0.17
    bd = pd.DataFrame([dict(x=1 - hw, x2=1 + hw, y=d["mean"][0], y2=0, c=BAR_BLUE),
                       dict(x=2 - hw, x2=2 + hw, y=d["mean"][1], y2=0, c=BAR_PINK)])
    bl = alt.Chart(bd).mark_rect().encode(x=XB, x2="x2:Q", y=YB, y2="y2:Q", color=alt.Color("c:N", scale=None))
    er = []
    for g, (lo, hi), c in ((1, d["err"][0], ERR_BLUE), (2, d["err"][1], ERR_RED)):
        er += [dict(x=g, x2=g, y=lo, y2=hi, c=c), dict(x=g - cap, x2=g + cap, y=lo, y2=lo, c=c),
               dict(x=g - cap, x2=g + cap, y=hi, y2=hi, c=c)]
    el = alt.Chart(pd.DataFrame(er)).mark_rule(strokeWidth=2.5).encode(x=XB, x2="x2:Q", y=YB, y2="y2:Q", color=alt.Color("c:N", scale=None))
    p1 = alt.Chart(pd.DataFrame(d["ad"], columns=["x", "y"])).mark_point(
        shape="circle", filled=True, opacity=1, color=PT_BLUE, size=260).encode(x=XB, y=YB)
    p2 = alt.Chart(pd.DataFrame(d["hf"], columns=["x", "y"])).mark_point(
        shape="square", filled=True, opacity=1, color=PT_RED, size=300).encode(x=XB, y=YB)
    br = pd.DataFrame(dict(x=[1, 1, 2, 2], y=d["bracket"], i=[0, 1, 2, 3]))
    bk = alt.Chart(br).mark_line(color="#111", strokeWidth=3.5).encode(x=XB, y=YB, order="i:Q")
    st = alt.Chart(pd.DataFrame([dict(x=1.5, y=d["star_y"], t=d["stars"])])).mark_text(
        font=FONT, fontWeight="bold", fontSize=star_size, color="#111", baseline="middle", dy=star_dy).encode(x=XB, y=YB, text="t:N")
    return panel(alt.layer(bl, el, p1, p2, bk, st))


panels = [
    pie(), canvas(1), heat(2),
    bars(3, PLCB1, 246, 330, 453, 536, 1728, 1188, 33, 34, 41, 13, 46, 8),
    bars(4, PLCG1, 639, 718, 842, 926, 1738, 1197, 33, 34, 41, 13, 46, 8),
    bars(5, PLA2G4A, 1058, 1142, 1267, 1354, 1738, 1200, 33, 34, 41, 13, 46, 8),
    bars(6, ALOX5AP, 1791, 1894, 2049, 2155, 2912, 2373, 42, 36, 51, 11, 56, 12),
    bars(7, PTGDR2, 2237, 2338, 2491, 2598, 2912, 2373, 42, 36, 51, 11, 56, 12),
    bars(8, PTGER2, 2681, 2784, 2938, 3044, 2912, 2373, 42, 36, 51, 11, 56, 12, fmt=".1f"),
]

chart = alt.hconcat(*panels, spacing=0, bounds="flush", padding=0, background="white").configure_view(strokeWidth=0)
chart.save("out.html", embed_options={"renderer": "svg", "actions": False})
